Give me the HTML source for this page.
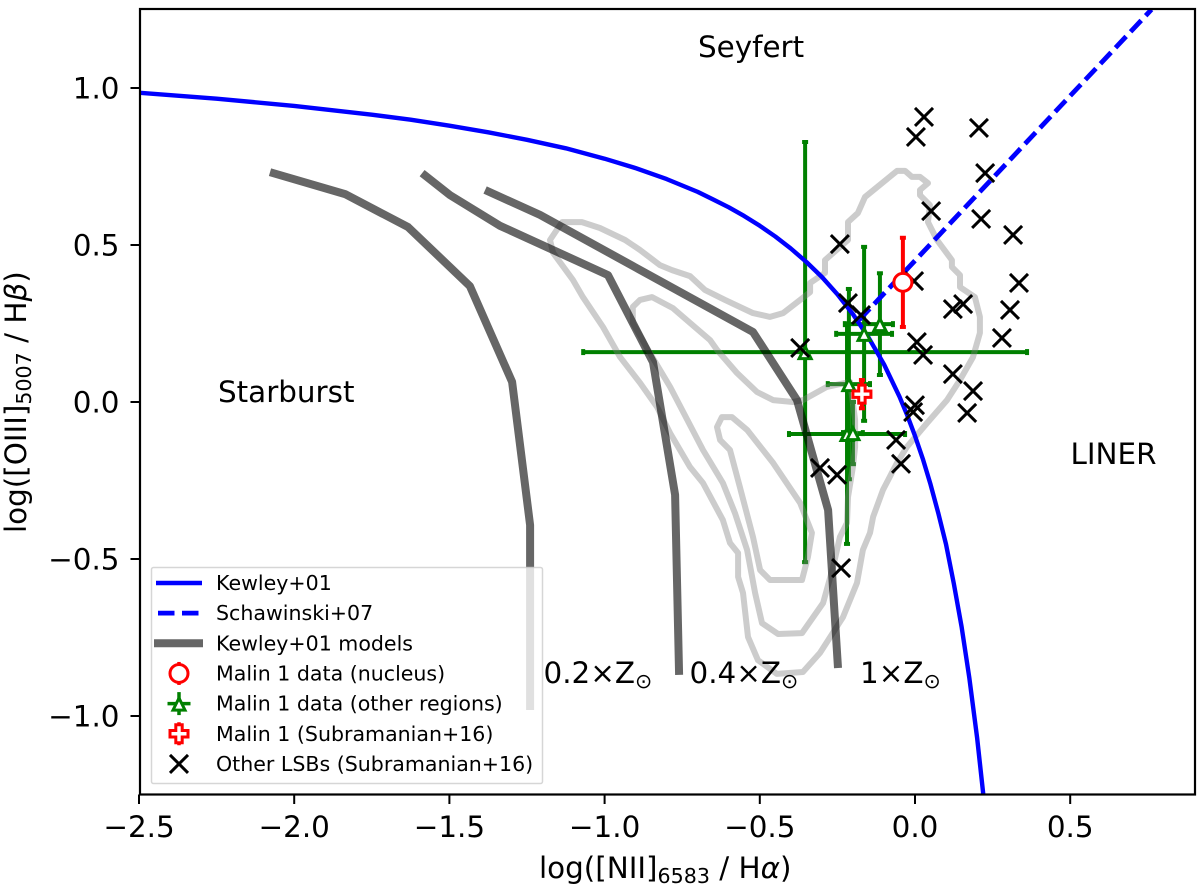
<!DOCTYPE html>
<html lang="en">
<head>
<meta charset="utf-8">
<title>BPT diagram</title>
<style>
html,body{margin:0;padding:0;background:#fff;width:1200px;height:889px;overflow:hidden}
svg{display:block}
text{font-family:"DejaVu Sans","Liberation Sans",sans-serif;fill:#000}
</style>
</head>
<body>
<svg id="chart" xmlns="http://www.w3.org/2000/svg" width="1200" height="889" viewBox="0 0 1200 889"></svg>
<script>
// ---- tick labels ----
const xTicks = [-2.5, -2.0, -1.5, -1.0, -0.5, 0.0, 0.5];
const yTicks = [-1.0, -0.5, 0.0, 0.5, 1.0];

// ---- theoretical lines [log NII/Ha, log OIII/Hb] ----
const kewleyCurve = [[-2.5,0.985],[-2.25,0.966],[-2,0.943],[-1.75,0.915],[-1.625,0.899],[-1.5,0.880],[-1.375,0.859],[-1.25,0.835],[-1.125,0.808],[-1,0.775],[-0.9,0.745],[-0.8,0.710],[-0.7,0.669],[-0.65,0.645],[-0.6,0.620],[-0.55,0.592],[-0.5,0.561],[-0.45,0.527],[-0.4,0.489],[-0.35,0.446],[-0.3,0.398],[-0.25,0.343],[-0.2,0.280],[-0.15,0.206],[-0.1,0.120],[-0.05,0.017],[-0.025,-0.042],[0,-0.108],[0.025,-0.181],[0.05,-0.262],[0.075,-0.354],[0.1,-0.453],[0.125,-0.578],[0.15,-0.716],[0.175,-0.878],[0.2,-1.069],[0.22,-1.25]];
const schawinskiLine = [[-0.18,0.261],[0.762,1.25]];

// ---- model grids ----
const model02 = [[-2.078,0.732],[-1.836,0.662],[-1.633,0.557],[-1.434,0.369],[-1.298,0.064],[-1.240,-0.392],[-1.240,-0.981]];
const model04 = [[-1.588,0.729],[-1.498,0.659],[-1.337,0.561],[-0.989,0.404],[-0.844,0.127],[-0.773,-0.296],[-0.760,-0.869]];
const model10 = [[-1.385,0.675],[-1.208,0.596],[-0.522,0.223],[-0.380,0.006],[-0.280,-0.344],[-0.248,-0.847]];

// ---- SDSS density contours ----
const contourOuter = [[-1.137,0.573],[-1.073,0.573],[-1.015,0.554],[-0.934,0.516],[-0.886,0.484],[-0.822,0.436],[-0.783,0.420],[-0.725,0.401],[-0.677,0.357],[-0.612,0.325],[-0.522,0.283],[-0.467,0.271],[-0.425,0.283],[-0.370,0.325],[-0.338,0.350],[-0.338,0.379],[-0.290,0.411],[-0.290,0.452],[-0.216,0.516],[-0.216,0.573],[-0.184,0.602],[-0.161,0.653],[-0.058,0.736],[-0.032,0.736],[-0.010,0.717],[0.016,0.717],[0.042,0.697],[0.016,0.675],[0.016,0.659],[0.048,0.627],[0.042,0.573],[0.071,0.516],[0.119,0.452],[0.119,0.430],[0.145,0.404],[0.145,0.366],[0.193,0.334],[0.209,0.271],[0.209,0.220],[0.187,0.143],[0.145,0.070],[0.103,0.006],[0.039,-0.067],[-0.026,-0.143],[-0.058,-0.194],[-0.103,-0.280],[-0.135,-0.366],[-0.145,-0.417],[-0.168,-0.471],[-0.187,-0.576],[-0.232,-0.685],[-0.306,-0.799],[-0.361,-0.860],[-0.445,-0.866],[-0.506,-0.822],[-0.538,-0.748],[-0.554,-0.608],[-0.570,-0.557],[-0.570,-0.481],[-0.596,-0.449],[-0.619,-0.376],[-0.683,-0.258],[-0.725,-0.207],[-0.789,-0.099],[-0.831,-0.016],[-0.886,0.061],[-0.950,0.143],[-1.005,0.239],[-1.070,0.334],[-1.102,0.389],[-1.166,0.475],[-1.176,0.516]];
const contourMiddle = [[-0.909,0.303],[-0.886,0.325],[-0.847,0.334],[-0.780,0.299],[-0.725,0.252],[-0.660,0.197],[-0.638,0.166],[-0.573,0.092],[-0.509,0.032],[-0.457,0.006],[-0.393,0],[-0.361,0.006],[-0.284,0.048],[-0.209,0.064],[-0.193,-0.057],[-0.193,-0.143],[-0.200,-0.207],[-0.216,-0.303],[-0.219,-0.385],[-0.242,-0.430],[-0.264,-0.525],[-0.296,-0.640],[-0.364,-0.736],[-0.441,-0.739],[-0.493,-0.704],[-0.515,-0.608],[-0.541,-0.471],[-0.580,-0.354],[-0.619,-0.258],[-0.683,-0.153],[-0.789,0.048],[-0.854,0.156],[-0.909,0.252]];
const contourInner = [[-0.638,-0.080],[-0.622,-0.048],[-0.590,-0.048],[-0.541,-0.089],[-0.457,-0.194],[-0.370,-0.322],[-0.332,-0.417],[-0.345,-0.494],[-0.364,-0.567],[-0.467,-0.567],[-0.499,-0.535],[-0.522,-0.430],[-0.564,-0.271],[-0.596,-0.153],[-0.628,-0.121]];

// ---- Malin 1 other regions: x, y, xErrLow, xErrHigh, yErr ----
const regionX = [-0.354,-0.164,-0.113,-0.213,-0.219,-0.200];
const regionY = [0.159,0.217,0.248,0.057,-0.102,-0.099];
const regionXErrLow = [0.715,0.090,0.113,0.068,0.187,0.032];
const regionXErrHigh = [0.715,0.090,0.042,0.068,0.187,0.032];
const regionYErr = [0.669,0.277,0.162,0.303,0.350,0.099];

// ---- Malin 1 nucleus and Subramanian+16 point ----
const nucleusPoint = [-0.039,0.381];
const nucleusYErr = 0.142;
const subramanianPoint = [-0.171,0.025];
const subramanianYErr = 0.045;

// ---- other LSB galaxies ----
const lsbX = [0.029,0.003,0.206,0.226,0.052,0.213,0.316,0.335,-0.003,-0.242,0.155,0.122,0.306,0.280,-0.216,-0.174,0.006,0.026,-0.370,0.122,0.187,0.168,0.000,-0.006,-0.061,-0.045,-0.306,-0.251,-0.238];
const lsbY = [0.908,0.844,0.873,0.729,0.608,0.583,0.532,0.379,0.385,0.503,0.312,0.296,0.293,0.204,0.315,0.277,0.191,0.150,0.172,0.089,0.035,-0.035,-0.010,-0.032,-0.121,-0.197,-0.210,-0.232,-0.529];

// ---- axes ----
const plot = {left:140, right:1195, top:9, bottom:794.5};
const sx = v => 915 + v * 310.4;
const sy = v => 402 - v * 314;

const NS = 'http://www.w3.org/2000/svg';
const svg = document.getElementById('chart');
function mk(tag, attrs, parent) {
  const e = document.createElementNS(NS, tag);
  for (const k in attrs) e.setAttribute(k, attrs[k]);
  (parent || svg).appendChild(e);
  return e;
}
const pathOf = (pts, close) => pts.map((p,i)=>(i?'L':'M')+sx(p[0]).toFixed(1)+' '+sy(p[1]).toFixed(1)).join(' ') + (close?' Z':'');
const fmt = v => (v<0?'\u2212':'') + Math.abs(v).toFixed(1);

// clip
const defs = mk('defs',{});
const clip = mk('clipPath',{id:'plot-clip'},defs);
mk('rect',{x:plot.left,y:plot.top,width:plot.right-plot.left,height:plot.bottom-plot.top},clip);
const data = mk('g',{'clip-path':'url(#plot-clip)'});



// error bars of other regions
const GREEN = '#008000';
regionX.forEach((x,i)=>{
  const g = mk('g',{stroke:GREEN,'stroke-width':4,fill:'none'},data);
  
  
  const y = regionY[i];
  const x0 = sx(x - regionXErrLow[i]), x1 = sx(x + regionXErrHigh[i]);
  const y0 = sy(y + regionYErr[i]), y1 = sy(y - regionYErr[i]);
  mk('line',{x1:x0,x2:x1,y1:sy(y),y2:sy(y)},g);
  mk('line',{x1:sx(x),x2:sx(x),y1:y0,y2:y1},g);
  mk('line',{x1:x0,x2:x0,y1:sy(y)-3,y2:sy(y)+3},g);
  mk('line',{x1:x1,x2:x1,y1:sy(y)-3,y2:sy(y)+3},g);
  mk('line',{x1:sx(x)-3,x2:sx(x)+3,y1:y0,y2:y0},g);
  mk('line',{x1:sx(x)-3,x2:sx(x)+3,y1:y1,y2:y1},g);
});

// contours
[[contourOuter,'contour-outer'],[contourMiddle,'contour-middle'],[contourInner,'contour-inner']].forEach(c=>{
  const el = mk('path',{d:pathOf(c[0],true),fill:'none',stroke:'#808080','stroke-opacity':0.4,'stroke-width':6,'stroke-linejoin':'round'},data);
  
  
});

// models
[[model02,'model-line-0.2z'],[model04,'model-line-0.4z'],[model10,'model-line-1z']].forEach(c=>{
  const el = mk('path',{d:pathOf(c[0]),fill:'none',stroke:'#000','stroke-opacity':0.6,'stroke-width':8,'stroke-linejoin':'round'},data);
  
  
});

// demarcation lines
const kew = mk('path',{d:pathOf(kewleyCurve),fill:'none',stroke:'#0000ff','stroke-width':4.4,'stroke-linejoin':'round'},data);


const sch = mk('path',{d:pathOf(schawinskiLine),fill:'none',stroke:'#0000ff','stroke-width':4.8,'stroke-dasharray':'15.5 6.5'},data);



// marker helpers
function triangle(cx,cy,parent){
  return mk('path',{d:`M${cx} ${cy-5.5} L${cx+6} ${cy+6.5} L${cx-6} ${cy+6.5} Z`,fill:'#fff',stroke:GREEN,'stroke-width':3},parent);
}
function plus(cx,cy,parent){
  const a=3.2,b=9;
  return mk('path',{d:`M${cx-a} ${cy-b} H${cx+a} V${cy-a} H${cx+b} V${cy+a} H${cx+a} V${cy+b} H${cx-a} V${cy+a} H${cx-b} V${cy-a} H${cx-a} Z`,fill:'#fff',stroke:'#ff0000','stroke-width':3},parent);
}
function cross(cx,cy,parent){
  const s=9;
  return mk('path',{d:`M${cx-s} ${cy-s} L${cx+s} ${cy+s} M${cx-s} ${cy+s} L${cx+s} ${cy-s}`,fill:'none',stroke:'#000','stroke-width':3},parent);
}

// triangles
regionX.forEach((x,i)=>{
  const el = triangle(sx(x),sy(regionY[i]),data);
  
  
});

// LSB crosses
lsbX.forEach((x,i)=>{
  const el = cross(sx(x),sy(lsbY[i]),data);
  
  
});

// nucleus
const nucBar = mk('g',{stroke:'#ff0000','stroke-width':4,fill:'none'},data);


mk('line',{x1:sx(nucleusPoint[0]),x2:sx(nucleusPoint[0]),y1:sy(nucleusPoint[1]+nucleusYErr),y2:sy(nucleusPoint[1]-nucleusYErr)},nucBar);
[1,-1].forEach(s=>mk('line',{x1:sx(nucleusPoint[0])-3,x2:sx(nucleusPoint[0])+3,y1:sy(nucleusPoint[1]+s*nucleusYErr),y2:sy(nucleusPoint[1]+s*nucleusYErr)},nucBar));
const nuc = mk('circle',{cx:sx(nucleusPoint[0]),cy:sy(nucleusPoint[1]),r:9,fill:'#fff',stroke:'#ff0000','stroke-width':3},data);



// Subramanian point
const subBar = mk('g',{stroke:'#ff0000','stroke-width':4,fill:'none'},data);


mk('line',{x1:sx(subramanianPoint[0]),x2:sx(subramanianPoint[0]),y1:sy(subramanianPoint[1]+subramanianYErr),y2:sy(subramanianPoint[1]-subramanianYErr)},subBar);
[1,-1].forEach(s=>mk('line',{x1:sx(subramanianPoint[0])-3,x2:sx(subramanianPoint[0])+3,y1:sy(subramanianPoint[1]+s*subramanianYErr),y2:sy(subramanianPoint[1]+s*subramanianYErr)},subBar));
const sub = plus(sx(subramanianPoint[0]),sy(subramanianPoint[1]),data);



// ---- legend ----
const legend = mk('g',{});


mk('rect',{x:151.5,y:567.5,width:391,height:216,rx:2,fill:'#fff','fill-opacity':0.8,stroke:'#cccccc','stroke-opacity':0.8,'stroke-width':1.5},legend);
const legendLabels = ['Kewley+01','Schawinski+07','Kewley+01 models','Malin 1 data (nucleus)','Malin 1 data (other regions)','Malin 1 (Subramanian+16)','Other LSBs (Subramanian+16)'];
const rowY = i => 583 + i * 30.15;
legendLabels.forEach((t,i)=>{
  const el = mk('text',{x:216,y:rowY(i)+7,'font-size':20.55},legend);
  el.textContent = t;
  
  
});
mk('line',{x1:156,x2:202,y1:rowY(0),y2:rowY(0),stroke:'#0000ff','stroke-width':4.4},legend);
mk('line',{x1:158,x2:199,y1:rowY(1),y2:rowY(1),stroke:'#0000ff','stroke-width':4.8,'stroke-dasharray':'16.5 7.5'},legend);
mk('line',{x1:154,x2:203,y1:rowY(2),y2:rowY(2),stroke:'#000','stroke-opacity':0.6,'stroke-width':8},legend);
const lx = 179;
mk('circle',{cx:lx,cy:rowY(3),r:9,fill:'#fff',stroke:'#ff0000','stroke-width':3},legend);
mk('line',{x1:lx,x2:lx,y1:rowY(3)-11.5,y2:rowY(3)-9,stroke:'#ff0000','stroke-width':3.5},legend);
mk('line',{x1:lx,x2:lx,y1:rowY(3)+9,y2:rowY(3)+11.5,stroke:'#ff0000','stroke-width':3.5},legend);
mk('line',{x1:lx,x2:lx,y1:rowY(4)-11.5,y2:rowY(4)+11.5,stroke:GREEN,'stroke-width':3.5},legend);
mk('line',{x1:lx-11.5,x2:lx+11.5,y1:rowY(4),y2:rowY(4),stroke:GREEN,'stroke-width':3.5},legend);
triangle(lx,rowY(4),legend);
mk('line',{x1:lx,x2:lx,y1:rowY(5)-11.5,y2:rowY(5)+11.5,stroke:'#ff0000','stroke-width':3.5},legend);
plus(lx,rowY(5),legend);
cross(lx,rowY(6),legend);

// ---- spines and ticks ----
const frame = mk('rect',{x:plot.left,y:plot.top,width:plot.right-plot.left,height:plot.bottom-plot.top,fill:'none',stroke:'#000','stroke-width':2.2});



xTicks.forEach(v=>{
  const t = mk('line',{x1:sx(v),x2:sx(v),y1:plot.bottom,y2:plot.bottom+9.5,stroke:'#000','stroke-width':2});
  
  
  const l = mk('text',{x:sx(v),y:837,'font-size':29.4,'text-anchor':'middle'});
  l.textContent = fmt(v);
  
  
});
yTicks.forEach(v=>{
  const t = mk('line',{x1:plot.left-9.5,x2:plot.left,y1:sy(v),y2:sy(v),stroke:'#000','stroke-width':2});
  
  
  const l = mk('text',{x:119.5,y:sy(v)+10.5,'font-size':29.4,'text-anchor':'end'});
  l.textContent = fmt(v);
  
  
});
</script>
<script>
// static text labels
(function(){
  const s = document.getElementById('chart');
  s.insertAdjacentHTML('beforeend', `
  <text x="539" y="878" font-size="29.4">log([NII]<tspan font-size="20.6" dy="5">6583</tspan><tspan dy="-5"> / H</tspan><tspan font-style="italic">α</tspan>)</text>
  <text transform="translate(26,533) rotate(-90)" font-size="29.4">log([OIII]<tspan font-size="20.6" dy="5">5007</tspan><tspan dy="-5"> / H</tspan><tspan font-style="italic">β</tspan>)</text>
  <text x="698" y="57" font-size="29.4">Seyfert</text>
  <text x="218" y="402" font-size="29.4">Starburst</text>
  <text x="1070.5" y="464" font-size="29.4">LINER</text>
  <text x="543.5" y="683" font-size="29.4">0.2×Z<tspan font-size="20.6" dy="5">⊙</tspan></text>
  <text x="689.5" y="683" font-size="29.4">0.4×Z<tspan font-size="20.6" dy="5">⊙</tspan></text>
  <text x="860" y="683" font-size="29.4">1×Z<tspan font-size="20.6" dy="5">⊙</tspan></text>
  `);
})();
</script>
</body>
</html>
